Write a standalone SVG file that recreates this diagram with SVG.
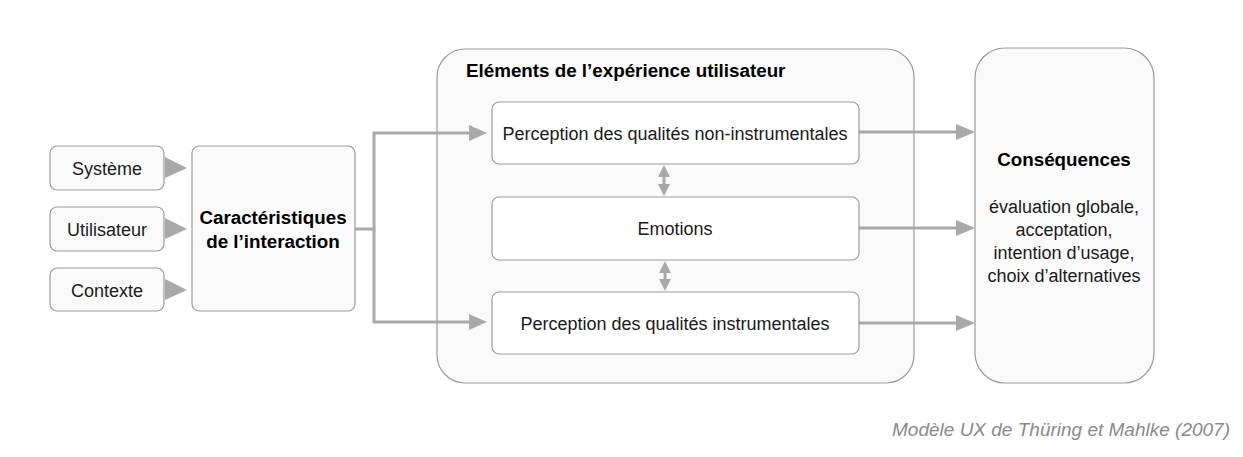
<svg xmlns="http://www.w3.org/2000/svg" width="1243" height="457" viewBox="0 0 1243 457">
<defs>
<style>
.box{fill:#fafafa;stroke:#9b9b9b;stroke-width:1.2}
.wbox{fill:#ffffff;stroke:#9b9b9b;stroke-width:1.2}
.t{font-family:"Liberation Sans",Arial,sans-serif;font-size:18px;fill:#1a1a1a;text-anchor:middle}
.b{font-family:"Liberation Sans",Arial,sans-serif;font-size:18.8px;font-weight:bold;fill:#000}
.ln{fill:none;stroke:#a9a9a9;stroke-width:3}
.ah{fill:#a9a9a9}
</style>
</defs>
<rect width="1243" height="457" fill="#ffffff"/>

<g id="systeme"><rect class="box" x="50" y="146" width="114" height="44" rx="7"/><text class="t" x="107" y="175">Système</text></g>
<g id="utilisateur"><rect class="box" x="50" y="207" width="114" height="44" rx="7"/><text class="t" x="107" y="236">Utilisateur</text></g>
<g id="contexte"><rect class="box" x="50" y="268" width="114" height="43" rx="7"/><text class="t" x="107" y="297">Contexte</text></g>

<g id="caracteristiques"><rect class="box" x="192" y="146" width="163" height="165" rx="7"/>
<text class="b" x="273" y="224" text-anchor="middle">Caractéristiques</text>
<text class="b" x="273" y="248" text-anchor="middle">de l’interaction</text></g>

<g id="elements"><rect class="box" x="437" y="49" width="477" height="334" rx="28"/>
<text class="b" x="466" y="77">Eléments de l’expérience utilisateur</text></g>

<g id="nonInstr"><rect class="wbox" x="492" y="102" width="367" height="62" rx="7"/><text class="t" x="675" y="140">Perception des qualités non-instrumentales</text></g>
<g id="emotions"><rect class="wbox" x="492" y="197" width="367" height="63" rx="7"/><text class="t" x="675" y="235">Emotions</text></g>
<g id="instr"><rect class="wbox" x="492" y="292" width="367" height="62" rx="7"/><text class="t" x="675" y="330">Perception des qualités instrumentales</text></g>

<g id="consequences"><rect class="box" x="975" y="48" width="179" height="335" rx="30"/>
<text class="b" x="1064" y="166" text-anchor="middle">Conséquences</text>
<text class="t" x="1064" y="213">évaluation globale,</text>
<text class="t" x="1064" y="236">acceptation,</text>
<text class="t" x="1064" y="259">intention d’usage,</text>
<text class="t" x="1064" y="282">choix d’alternatives</text></g>

<g id="connectors">
<polygon class="ah" points="165,157 187,168 165,178"/>
<polygon class="ah" points="165,218 187,229 165,239"/>
<polygon class="ah" points="165,279 187,290 165,300"/>
<path class="ln" d="M355,229 H374 V133 H472"/>
<path class="ln" d="M374,229 V322 H472"/>
<polygon class="ah" points="469,125 487,133 469,141"/>
<polygon class="ah" points="469,314 487,322 469,330"/>
<line class="ln" x1="859" y1="132" x2="958" y2="132"/>
<line class="ln" x1="859" y1="228" x2="958" y2="228"/>
<line class="ln" x1="859" y1="323" x2="958" y2="323"/>
<polygon class="ah" points="956,124 975,132 956,140"/>
<polygon class="ah" points="956,220 975,228 956,236"/>
<polygon class="ah" points="956,315 975,323 956,331"/>
<line class="ln" x1="664" y1="175" x2="664" y2="187"/>
<polygon class="ah" points="664,165 670,177 658,177"/>
<polygon class="ah" points="664,196 670,184 658,184"/>
<line class="ln" x1="665" y1="271" x2="665" y2="282"/>
<polygon class="ah" points="665,261 671,273 659,273"/>
<polygon class="ah" points="665,291 671,279 659,279"/>
</g>

<text x="1230" y="436" font-family="Liberation Sans,Arial,sans-serif" font-size="19px" font-style="italic" fill="#8a8a8a" text-anchor="end">Modèle UX de Thüring et Mahlke (2007)</text>
</svg>
